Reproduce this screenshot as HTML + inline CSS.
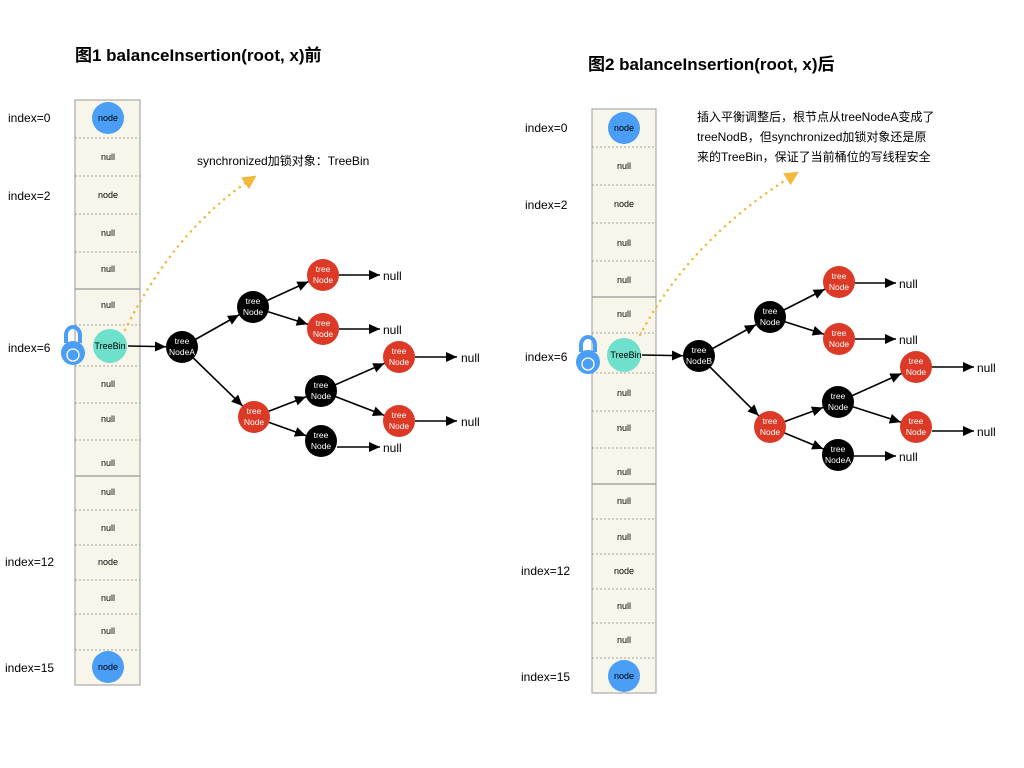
<!DOCTYPE html>
<html><head><meta charset="utf-8"><style>
html,body{margin:0;padding:0;background:#fff;}
svg{display:block;}
text{font-family:"Liberation Sans","Noto Sans CJK SC",sans-serif;}
</style></head><body>
<svg width="1024" height="768" viewBox="0 0 1024 768" xmlns="http://www.w3.org/2000/svg">
<defs>
<marker id="a" markerUnits="userSpaceOnUse" markerWidth="40" markerHeight="20" viewBox="0 0 40 20" refX="27" refY="5" orient="auto" overflow="visible"><path d="M0,0 L11,5 L0,10 Z" fill="#000"/></marker>
<marker id="b" markerUnits="userSpaceOnUse" markerWidth="20" markerHeight="20" viewBox="0 0 20 20" refX="11" refY="5" orient="auto" overflow="visible"><path d="M0,0 L11,5 L0,10 Z" fill="#000"/></marker>
<marker id="o" markerUnits="userSpaceOnUse" markerWidth="20" markerHeight="20" viewBox="0 0 20 20" refX="6" refY="7" orient="auto" overflow="visible"><path d="M0,0 L14,7 L0,14 Z" fill="#f2b93b"/></marker>
</defs>

<!-- Titles -->
<text x="75" y="61" font-size="17" font-weight="bold" fill="#000">图1 balanceInsertion(root, x)前</text>
<text x="588" y="70" font-size="17" font-weight="bold" fill="#000">图2 balanceInsertion(root, x)后</text>

<!-- LEFT ARRAY -->
<rect x="75" y="100" width="65" height="585" fill="#f8f6ea" stroke="#aaa" stroke-width="1.2"/>
<g stroke="#888" stroke-width="0.8" stroke-dasharray="2,2">
<line x1="75" y1="138" x2="140" y2="138"/><line x1="75" y1="176" x2="140" y2="176"/>
<line x1="75" y1="214" x2="140" y2="214"/><line x1="75" y1="252" x2="140" y2="252"/>
<line x1="75" y1="325" x2="140" y2="325"/><line x1="75" y1="366" x2="140" y2="366"/>
<line x1="75" y1="403" x2="140" y2="403"/><line x1="75" y1="440" x2="140" y2="440"/>
<line x1="75" y1="510" x2="140" y2="510"/><line x1="75" y1="545" x2="140" y2="545"/>
<line x1="75" y1="580" x2="140" y2="580"/><line x1="75" y1="614" x2="140" y2="614"/>
<line x1="75" y1="650" x2="140" y2="650"/>
</g>
<line x1="75" y1="289" x2="140" y2="289" stroke="#999" stroke-width="1.2"/>
<line x1="75" y1="476" x2="140" y2="476" stroke="#999" stroke-width="1.2"/>
<g font-size="9" fill="#000" text-anchor="middle">
<text x="108" y="160">null</text><text x="108" y="198">node</text><text x="108" y="236">null</text>
<text x="108" y="272">null</text><text x="108" y="308">null</text><text x="108" y="387">null</text>
<text x="108" y="422">null</text><text x="108" y="466">null</text><text x="108" y="495">null</text>
<text x="108" y="531">null</text><text x="108" y="565">node</text><text x="108" y="601">null</text>
<text x="108" y="634">null</text>
</g>
<circle cx="108" cy="118" r="16" fill="#4a9ef5"/><text x="108" y="121" font-size="9" text-anchor="middle">node</text>
<circle cx="108" cy="667" r="16" fill="#4a9ef5"/><text x="108" y="670" font-size="9" text-anchor="middle">node</text>
<g font-size="12" fill="#000">
<text x="8" y="122">index=0</text><text x="8" y="200">index=2</text><text x="8" y="352">index=6</text>
<text x="5" y="566">index=12</text><text x="5" y="672">index=15</text>
</g>
<!-- left lock -->
<path d="M66,343 V335 a7,8 0 0 1 14,0 V343" fill="none" stroke="#4a9ef5" stroke-width="4"/>
<circle cx="73" cy="353" r="12" fill="#4a9ef5"/>
<circle cx="73" cy="355" r="6" fill="none" stroke="#fff" stroke-width="1.3"/>
<!-- orange dotted -->
<path d="M125,330 Q175,230 250,180" fill="none" stroke="#f2b93b" stroke-width="2.5" stroke-dasharray="0.1,6.5" stroke-linecap="round" marker-end="url(#o)"/>
<text x="197" y="165" font-size="12" fill="#000">synchronized加锁对象：TreeBin</text>

<!-- left tree edges -->
<g stroke="#000" stroke-width="1.6" fill="none">
<line x1="128" y1="346" x2="182" y2="347" marker-end="url(#a)"/>
<line x1="182" y1="347" x2="253" y2="307" marker-end="url(#a)"/>
<line x1="182" y1="347" x2="254" y2="417" marker-end="url(#a)"/>
<line x1="253" y1="307" x2="323" y2="275" marker-end="url(#a)"/>
<line x1="253" y1="307" x2="323" y2="329" marker-end="url(#a)"/>
<line x1="254" y1="417" x2="321" y2="391" marker-end="url(#a)"/>
<line x1="254" y1="417" x2="321" y2="441" marker-end="url(#a)"/>
<line x1="321" y1="391" x2="399" y2="357" marker-end="url(#a)"/>
<line x1="321" y1="391" x2="399" y2="421" marker-end="url(#a)"/>
<line x1="339" y1="275" x2="380" y2="275" marker-end="url(#b)"/>
<line x1="339" y1="329" x2="380" y2="329" marker-end="url(#b)"/>
<line x1="415" y1="357" x2="457" y2="357" marker-end="url(#b)"/>
<line x1="415" y1="421" x2="457" y2="421" marker-end="url(#b)"/>
<line x1="337" y1="447" x2="380" y2="447" marker-end="url(#b)"/>
</g>
<circle cx="110" cy="346" r="17" fill="#6fe0cb"/><text x="110" y="349" font-size="9" text-anchor="middle">TreeBin</text>
<g font-size="8.5" fill="#fff" text-anchor="middle">
<circle cx="182" cy="347" r="16" fill="#000"/><text x="182" y="344">tree</text><text x="182" y="355">NodeA</text>
<circle cx="253" cy="307" r="16" fill="#000"/><text x="253" y="304">tree</text><text x="253" y="315">Node</text>
<circle cx="323" cy="275" r="16" fill="#dc3a26"/><text x="323" y="272">tree</text><text x="323" y="283">Node</text>
<circle cx="323" cy="329" r="16" fill="#dc3a26"/><text x="323" y="326">tree</text><text x="323" y="337">Node</text>
<circle cx="254" cy="417" r="16" fill="#dc3a26"/><text x="254" y="414">tree</text><text x="254" y="425">Node</text>
<circle cx="321" cy="391" r="16" fill="#000"/><text x="321" y="388">tree</text><text x="321" y="399">Node</text>
<circle cx="399" cy="357" r="16" fill="#dc3a26"/><text x="399" y="354">tree</text><text x="399" y="365">Node</text>
<circle cx="399" cy="421" r="16" fill="#dc3a26"/><text x="399" y="418">tree</text><text x="399" y="429">Node</text>
<circle cx="321" cy="441" r="16" fill="#000"/><text x="321" y="438">tree</text><text x="321" y="449">Node</text>
</g>
<g font-size="12" fill="#000">
<text x="383" y="280">null</text><text x="383" y="334">null</text><text x="461" y="362">null</text>
<text x="461" y="426">null</text><text x="383" y="452">null</text>
</g>

<!-- RIGHT ARRAY -->
<rect x="592" y="109" width="64" height="584" fill="#f8f6ea" stroke="#aaa" stroke-width="1.2"/>
<g stroke="#888" stroke-width="0.8" stroke-dasharray="2,2">
<line x1="592" y1="147" x2="656" y2="147"/><line x1="592" y1="185" x2="656" y2="185"/>
<line x1="592" y1="223" x2="656" y2="223"/><line x1="592" y1="261" x2="656" y2="261"/>
<line x1="592" y1="333" x2="656" y2="333"/><line x1="592" y1="373" x2="656" y2="373"/>
<line x1="592" y1="411" x2="656" y2="411"/><line x1="592" y1="448" x2="656" y2="448"/>
<line x1="592" y1="519" x2="656" y2="519"/><line x1="592" y1="554" x2="656" y2="554"/>
<line x1="592" y1="589" x2="656" y2="589"/><line x1="592" y1="623" x2="656" y2="623"/>
<line x1="592" y1="658" x2="656" y2="658"/>
</g>
<line x1="592" y1="297" x2="656" y2="297" stroke="#999" stroke-width="1.2"/>
<line x1="592" y1="484" x2="656" y2="484" stroke="#999" stroke-width="1.2"/>
<g font-size="9" fill="#000" text-anchor="middle">
<text x="624" y="169">null</text><text x="624" y="207">node</text><text x="624" y="246">null</text>
<text x="624" y="283">null</text><text x="624" y="317">null</text><text x="624" y="396">null</text>
<text x="624" y="431">null</text><text x="624" y="475">null</text><text x="624" y="504">null</text>
<text x="624" y="540">null</text><text x="624" y="574">node</text><text x="624" y="609">null</text>
<text x="624" y="643">null</text>
</g>
<circle cx="624" cy="128" r="16" fill="#4a9ef5"/><text x="624" y="131" font-size="9" text-anchor="middle">node</text>
<circle cx="624" cy="676" r="16" fill="#4a9ef5"/><text x="624" y="679" font-size="9" text-anchor="middle">node</text>
<g font-size="12" fill="#000">
<text x="525" y="132">index=0</text><text x="525" y="209">index=2</text><text x="525" y="361">index=6</text>
<text x="521" y="575">index=12</text><text x="521" y="681">index=15</text>
</g>
<path d="M581,352 V345 a7,8 0 0 1 14,0 V352" fill="none" stroke="#4a9ef5" stroke-width="4"/>
<circle cx="588" cy="362" r="12" fill="#4a9ef5"/>
<circle cx="588" cy="364" r="6" fill="none" stroke="#fff" stroke-width="1.3"/>
<path d="M640,335 Q690,240 792,176" fill="none" stroke="#f2b93b" stroke-width="2.5" stroke-dasharray="0.1,6.5" stroke-linecap="round" marker-end="url(#o)"/>
<g font-size="12" fill="#000">
<text x="697" y="121">插入平衡调整后，根节点从treeNodeA变成了</text>
<text x="697" y="141">treeNodB，但synchronized加锁对象还是原</text>
<text x="697" y="161">来的TreeBin，保证了当前桶位的写线程安全</text>
</g>

<g stroke="#000" stroke-width="1.6" fill="none">
<line x1="642" y1="355" x2="699" y2="356" marker-end="url(#a)"/>
<line x1="699" y1="356" x2="770" y2="317" marker-end="url(#a)"/>
<line x1="699" y1="356" x2="770" y2="427" marker-end="url(#a)"/>
<line x1="770" y1="317" x2="839" y2="282" marker-end="url(#a)"/>
<line x1="770" y1="317" x2="839" y2="339" marker-end="url(#a)"/>
<line x1="770" y1="427" x2="838" y2="402" marker-end="url(#a)"/>
<line x1="770" y1="427" x2="838" y2="455" marker-end="url(#a)"/>
<line x1="838" y1="402" x2="916" y2="367" marker-end="url(#a)"/>
<line x1="838" y1="402" x2="916" y2="427" marker-end="url(#a)"/>
<line x1="855" y1="283" x2="896" y2="283" marker-end="url(#b)"/>
<line x1="855" y1="339" x2="896" y2="339" marker-end="url(#b)"/>
<line x1="932" y1="367" x2="974" y2="367" marker-end="url(#b)"/>
<line x1="932" y1="431" x2="974" y2="431" marker-end="url(#b)"/>
<line x1="854" y1="456" x2="896" y2="456" marker-end="url(#b)"/>
</g>
<circle cx="624" cy="355" r="17" fill="#6fe0cb"/><text x="626" y="358" font-size="9" text-anchor="middle">TreeBin</text>
<g font-size="8.5" fill="#fff" text-anchor="middle">
<circle cx="699" cy="356" r="16" fill="#000"/><text x="699" y="353">tree</text><text x="699" y="364">NodeB</text>
<circle cx="770" cy="317" r="16" fill="#000"/><text x="770" y="314">tree</text><text x="770" y="325">Node</text>
<circle cx="839" cy="282" r="16" fill="#dc3a26"/><text x="839" y="279">tree</text><text x="839" y="290">Node</text>
<circle cx="839" cy="339" r="16" fill="#dc3a26"/><text x="839" y="336">tree</text><text x="839" y="347">Node</text>
<circle cx="770" cy="427" r="16" fill="#dc3a26"/><text x="770" y="424">tree</text><text x="770" y="435">Node</text>
<circle cx="838" cy="402" r="16" fill="#000"/><text x="838" y="399">tree</text><text x="838" y="410">Node</text>
<circle cx="916" cy="367" r="16" fill="#dc3a26"/><text x="916" y="364">tree</text><text x="916" y="375">Node</text>
<circle cx="916" cy="427" r="16" fill="#dc3a26"/><text x="916" y="424">tree</text><text x="916" y="435">Node</text>
<circle cx="838" cy="455" r="16" fill="#000"/><text x="838" y="452">tree</text><text x="838" y="463">NodeA</text>
</g>
<g font-size="12" fill="#000">
<text x="899" y="288">null</text><text x="899" y="344">null</text><text x="977" y="372">null</text>
<text x="977" y="436">null</text><text x="899" y="461">null</text>
</g>
</svg>
</body></html>
